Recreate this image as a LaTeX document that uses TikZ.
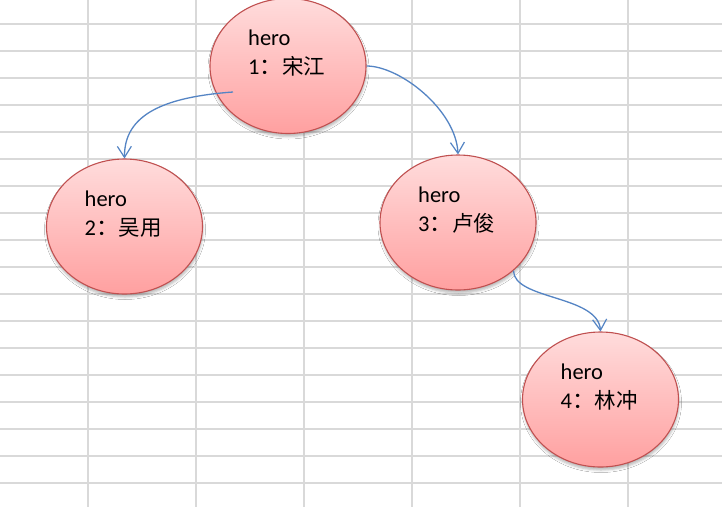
\documentclass[tikz,border=0pt]{standalone}
\usepackage{fontspec}
\setmainfont{Carlito}
\newfontfamily\cjk{Noto Sans CJK SC}
\usetikzlibrary{shapes.geometric,arrows.meta,shadows.blur,calc}
\definecolor{gridc}{RGB}{217,217,217}
\definecolor{topc}{RGB}{255,220,220}
\definecolor{botc}{RGB}{255,160,160}
\definecolor{rim}{RGB}{192,80,80}
\definecolor{conc}{RGB}{84,132,196}
\newcommand{\cjkcolon}{{\cjk ：}\hspace{0pt}}
\tikzset{
  hline/.style={draw=gridc,line width=1.2pt},
  vline/.style={draw=gridc,line width=2pt},
  herobox/.style={ellipse,draw=rim,line width=1.1pt,minimum width=156pt,minimum height=135pt,
    top color=topc,bottom color=botc,inner sep=0pt,
    blur shadow={shadow xshift=0.5pt,shadow yshift=-3pt,shadow blur radius=2.5pt,shadow opacity=28}},
  herotxt/.style={anchor=north west,inner sep=0pt,align=left,font=\fontsize{22.5}{29}\selectfont},
  conn/.style={draw=conc,line width=1.3pt,-{Straight Barb[length=11pt,width=14pt,line width=1.2pt]}},
}
\begin{document}
\begin{tikzpicture}[x=1pt,y=-1pt]
\useasboundingbox[fill=white] (0,0) rectangle (722,507);
\foreach \y in {24,51,...,483} \draw[hline] (0,\y) -- (722,\y);
\foreach \x in {88,196,...,628} \draw[vline] (\x,0) -- (\x,507);

\node[herobox] (n1) at (288,66) {};
\node[herobox] (n2) at (124.5,226.5) {};
\node[herobox] (n3) at (458,222.5) {};
\node[herobox] (n4) at (600.5,399.5) {};

\node[herotxt] (t1) at ($(n1.center)+(-40,-36)$) {hero\\1\cjkcolon{\cjk\fontsize{21.5}{29}\selectfont 宋江}};
\node[herotxt] (t2) at ($(n2.center)+(-40,-36)$) {hero\\2\cjkcolon{\cjk\fontsize{21.5}{29}\selectfont 吴用}};
\node[herotxt] (t3) at ($(n3.center)+(-40,-36)$) {hero\\3\cjkcolon{\cjk\fontsize{21.5}{29}\selectfont 卢俊}};
\node[herotxt] (t4) at ($(n4.center)+(-40,-36)$) {hero\\4\cjkcolon{\cjk\fontsize{21.5}{29}\selectfont 林冲}};

\coordinate (s1) at ($(n1.center)+(-55,26)$);
\draw[conn] (s1) .. controls (165,97) and (124,114) .. (n2.north);
\draw[conn] (n1.east) .. controls (400,66) and (456,110) .. (n3.north);
\draw[conn] (n3.-41) .. controls (514,300) and (598,295) .. (n4.north);
\end{tikzpicture}
\end{document}
